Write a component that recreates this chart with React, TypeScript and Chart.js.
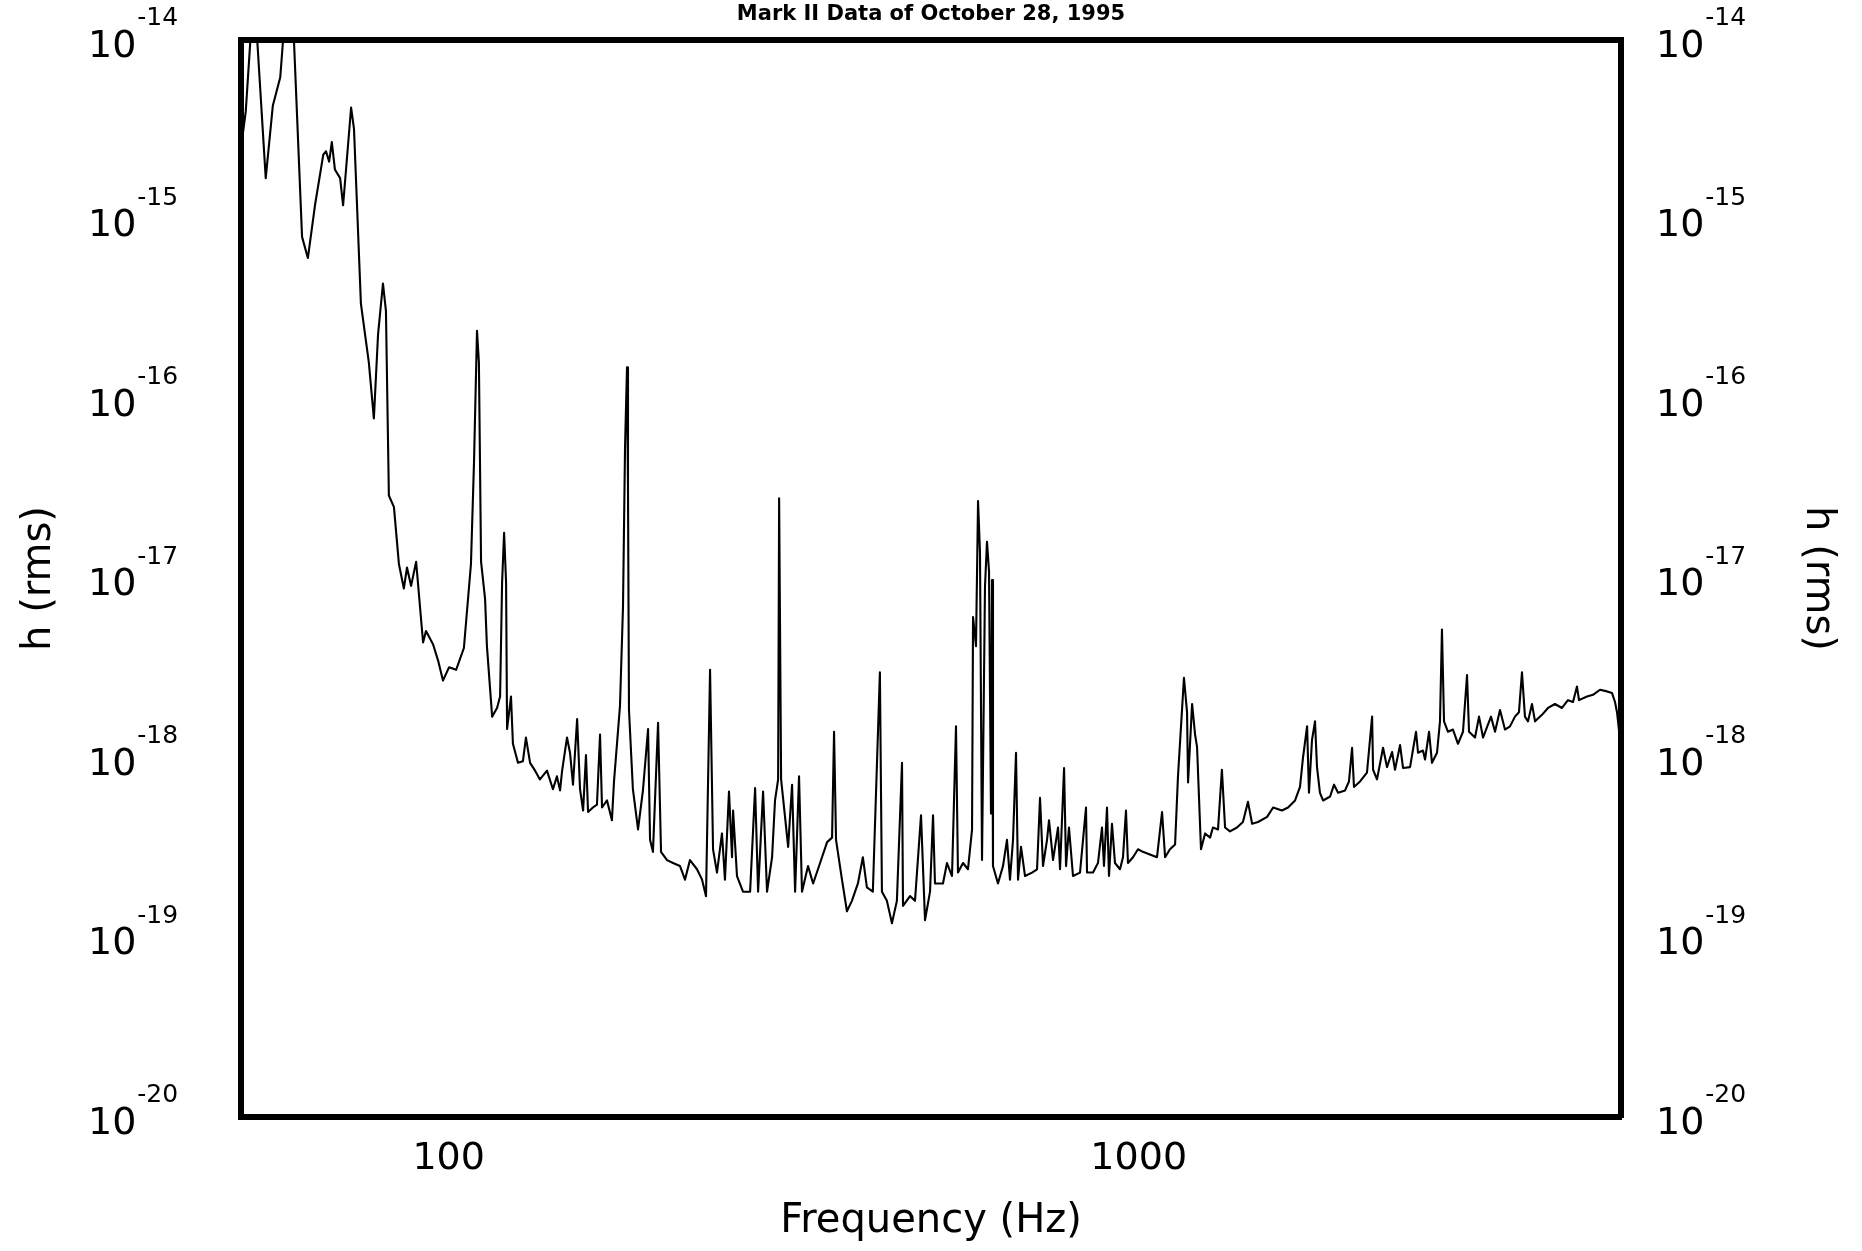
import React, { useEffect, useRef } from "react";
import { Chart, registerables } from "chart.js";

Chart.register(...registerables);

const TITLE = "Mark II Data of October 28, 1995";
const X_TITLE = "Frequency (Hz)";
const Y_TITLE = "h (rms)";
const X_TICKS = [100, 1000];
const Y_DECADES = [-14, -15, -16, -17, -18, -19, -20];
const X_MIN = 50;
const X_MAX = 5000;
const Y_MIN = 1e-20;
const Y_MAX = 1e-14;

// 50 - 125 Hz
const freqLow = [
  50.0, 50.8, 52.2, 54.3, 55.6, 57.0, 58.9, 61.3, 62.5, 64.0, 65.8, 66.4, 67.1, 67.7, 68.4,
  69.6, 70.3, 72.2, 72.9, 74.6, 76.6, 77.9, 79.0, 80.3, 81.1, 81.9, 83.3, 84.7, 86.1, 87.0,
  88.2, 89.7, 91.8, 92.7, 94.9, 96.5, 98.1, 100.1, 102.5, 105.2, 107.7, 108.8, 109.9, 110.6,
  111.4, 112.9, 113.6, 115.6, 117.5, 118.7, 119.5, 120.3, 121.1, 121.5, 123.1, 123.9,
];
const hLow = [
  2.5e-15, 4.0e-15, 2.0e-14, 1.7e-15, 4.3e-15, 6.2e-15, 3.3e-14, 8.0e-16, 6.1e-16, 1.2e-15,
  2.3e-15, 2.4e-15, 2.1e-15, 2.7e-15, 1.9e-15, 1.7e-15, 1.2e-15, 4.2e-15, 3.2e-15, 3.4e-16,
  1.6e-16, 7.8e-17, 2.3e-16, 4.4e-16, 3.1e-16, 2.9e-17, 2.5e-17, 1.2e-17, 8.8e-18, 1.15e-17,
  9.1e-18, 1.24e-17, 4.4e-18, 5.1e-18, 4.3e-18, 3.5e-18, 2.7e-18, 3.2e-18, 3.1e-18, 4.1e-18,
  1.2e-17, 4.4e-17, 2.4e-16, 1.6e-16, 1.24e-17, 7.7e-18, 4.2e-18, 1.7e-18, 1.9e-18, 2.2e-18,
  9.5e-18, 1.8e-17, 9.5e-18, 1.45e-18, 2.2e-18, 1.2e-18,
];

// 125 - 300 Hz
const freqMid = [
  126.0, 128.1, 129.4, 131.2, 133.4, 135.6, 138.8, 141.6, 143.5, 145.0, 146.0, 148.4, 149.9,
  151.4, 153.5, 155.0, 156.6, 158.1, 159.2, 161.8, 164.0, 165.7, 166.8, 169.6, 172.4, 173.6,
  177.1, 178.9, 180.1, 181.3, 181.9, 182.5, 184.9, 188.1, 191.2, 194.5, 195.8, 197.7, 201.1,
  203.1, 207.2, 211.4, 216.4, 220.0, 223.7, 229.0, 232.9, 236.0, 239.2, 241.6, 244.8, 248.9,
  251.4, 254.8, 257.4, 258.3, 261.7, 267.0, 273.4, 278.0, 280.8, 285.5, 289.3, 294.2, 297.1,
];
const hMid = [
  9.4e-19, 9.6e-19, 1.3e-18, 9.4e-19, 8.5e-19, 7.6e-19, 8.5e-19, 6.7e-19, 7.9e-19, 6.6e-19,
  8.5e-19, 1.3e-18, 1.07e-18, 7.1e-19, 1.65e-18, 6.7e-19, 5.1e-19, 1.04e-18, 5.0e-19, 5.3e-19,
  5.5e-19, 1.35e-18, 5.3e-19, 5.8e-19, 4.5e-19, 7.4e-19, 1.95e-18, 7.0e-18, 5.3e-17, 1.5e-16,
  3.2e-17, 1.85e-18, 6.7e-19, 4.0e-19, 6.6e-19, 1.45e-18, 3.5e-19, 3.0e-19, 1.57e-18, 3.0e-19,
  2.7e-19, 2.6e-19, 2.5e-19, 2.1e-19, 2.7e-19, 2.4e-19, 2.1e-19, 1.7e-19, 3.1e-18, 3.1e-19,
  2.3e-19, 3.8e-19, 2.1e-19, 6.5e-19, 2.8e-19, 5.1e-19, 2.2e-19, 1.8e-19, 1.8e-19, 6.8e-19,
  1.8e-19, 6.5e-19, 1.8e-19, 2.8e-19, 5.8e-19,
];

// 300 - 1000 Hz
const freqBucket = [
  300.2, 301.2, 303.2, 307.2, 310.4, 314.5, 317.7, 321.9, 325.1, 331.7, 337.4, 345.3, 353.5,
  359.4, 361.8, 364.2, 371.5, 377.7, 384.0, 391.8, 398.3, 403.7, 411.8, 421.6, 424.5, 431.6,
  438.9, 446.2, 453.9, 455.4, 466.2, 474.0, 483.6, 490.1, 498.4, 503.4, 506.7, 520.4, 527.4,
  536.3, 543.5, 547.1, 556.4, 565.7, 573.4, 575.3, 581.0, 585.0, 588.8, 592.8, 598.7, 602.7,
  606.8, 610.8, 612.9, 614.9, 625.2, 635.8, 644.3, 650.8, 657.4, 664.0, 668.5, 675.2, 684.3,
  700.5, 712.3, 719.4, 726.6, 736.4, 741.3, 751.3, 764.0, 769.1, 779.5, 784.7, 792.4, 803.1,
  822.1, 838.7, 841.6, 858.6, 872.9, 884.7, 890.6, 899.6, 905.6, 914.7, 923.9, 939.5, 948.9,
  958.4, 964.8, 981.1, 997.6,
];
const hBucket = [
  7.6e-19, 2.8e-17, 7.6e-19, 4.7e-19, 3.2e-19, 7.1e-19, 1.8e-19, 7.9e-19, 1.8e-19, 2.5e-19,
  2.0e-19, 2.6e-19, 3.4e-19, 3.6e-19, 1.4e-18, 3.5e-19, 2.1e-19, 1.4e-19, 1.6e-19, 2.0e-19,
  2.8e-19, 1.9e-19, 1.8e-19, 3.0e-18, 1.8e-19, 1.6e-19, 1.2e-19, 1.6e-19, 9.4e-19, 1.5e-19,
  1.7e-19, 1.6e-19, 4.8e-19, 1.25e-19, 1.8e-19, 4.8e-19, 2.0e-19, 2.0e-19, 2.6e-19, 2.2e-19,
  1.5e-18, 2.3e-19, 2.6e-19, 2.4e-19, 4.0e-19, 6.1e-18, 4.2e-18, 2.7e-17, 1.4e-17, 2.7e-19,
  9.0e-18, 1.6e-17, 1.1e-17, 4.9e-19, 9.8e-18, 2.5e-19, 2.0e-19, 2.5e-19, 3.5e-19, 2.1e-19,
  3.5e-19, 1.07e-18, 2.1e-19, 3.2e-19, 2.2e-19, 2.3e-19, 2.4e-19, 6.0e-19, 2.5e-19, 3.5e-19,
  4.5e-19, 2.7e-19, 4.1e-19, 2.4e-19, 8.8e-19, 2.5e-19, 4.1e-19, 2.2e-19, 2.3e-19, 5.3e-19,
  2.3e-19, 2.3e-19, 2.6e-19, 4.1e-19, 2.5e-19, 5.3e-19, 2.2e-19, 4.3e-19, 2.6e-19, 2.4e-19,
  2.8e-19, 5.1e-19, 2.6e-19, 2.8e-19, 3.1e-19,
];

// 1000 - 5000 Hz
const freqHigh = [
  1014, 1038, 1063, 1081, 1092, 1110, 1129, 1140, 1163, 1175, 1179, 1195, 1207, 1215, 1231,
  1248, 1269, 1281, 1303, 1320, 1334, 1356, 1388, 1416, 1440, 1460, 1489, 1535, 1566, 1613,
  1646, 1685, 1713, 1730, 1754, 1765, 1783, 1801, 1813, 1831, 1850, 1894, 1919, 1945, 1991,
  2017, 2038, 2051, 2093, 2142, 2179, 2186, 2215, 2260, 2290, 2329, 2352, 2392, 2416, 2473,
  2523, 2540, 2582, 2600, 2635, 2661, 2706, 2733, 2751, 2770, 2807, 2854, 2902, 2951, 2991,
  3011, 3072, 3113, 3155, 3240, 3284, 3339, 3395, 3452, 3510, 3557, 3593, 3629, 3666, 3715,
  3753, 3841, 3919, 4011, 4106, 4189, 4260, 4317, 4346, 4464, 4554, 4662, 4772, 4853, 4901,
  4934, 4984,
];
const hHigh = [
  3.0e-19, 2.9e-19, 2.8e-19, 5.0e-19, 2.8e-19, 3.1e-19, 3.3e-19, 7.9e-19, 2.8e-18, 1.8e-18,
  7.3e-19, 2.0e-18, 1.35e-18, 1.15e-18, 3.1e-19, 3.8e-19, 3.6e-19, 4.1e-19, 4.0e-19, 8.6e-19,
  4.1e-19, 3.9e-19, 4.1e-19, 4.4e-19, 5.7e-19, 4.3e-19, 4.4e-19, 4.7e-19, 5.3e-19, 5.1e-19,
  5.3e-19, 5.8e-19, 6.9e-19, 1.0e-18, 1.5e-18, 6.4e-19, 1.26e-18, 1.6e-18, 8.9e-19, 6.4e-19,
  5.8e-19, 6.1e-19, 7.1e-19, 6.4e-19, 6.6e-19, 7.4e-19, 1.14e-18, 6.9e-19, 7.4e-19, 8.3e-19,
  1.7e-18, 8.6e-19, 7.6e-19, 1.14e-18, 8.9e-19, 1.08e-18, 8.6e-19, 1.18e-18, 8.8e-19, 8.9e-19,
  1.4e-18, 1.07e-18, 1.1e-18, 9.8e-19, 1.4e-18, 9.4e-19, 1.07e-18, 1.6e-18, 5.2e-18, 1.6e-18,
  1.4e-18, 1.44e-18, 1.2e-18, 1.4e-18, 2.9e-18, 1.4e-18, 1.3e-18, 1.7e-18, 1.3e-18, 1.7e-18,
  1.4e-18, 1.85e-18, 1.44e-18, 1.5e-18, 1.7e-18, 1.8e-18, 3.0e-18, 1.7e-18, 1.6e-18, 2.0e-18,
  1.6e-18, 1.74e-18, 1.9e-18, 2.0e-18, 1.9e-18, 2.1e-18, 2.05e-18, 2.5e-18, 2.1e-18, 2.2e-18,
  2.25e-18, 2.4e-18, 2.35e-18, 2.3e-18, 2.05e-18, 1.8e-18, 1.26e-18,
];

const FONT = "'DejaVu Sans', 'Liberation Sans', sans-serif";

export default function App() {
  const ref = useRef<HTMLCanvasElement>(null);

  useEffect(() => {
    const canvas = ref.current;
    if (!canvas) return;

    const freqs = [...freqLow, ...freqMid, ...freqBucket, ...freqHigh];
    const hs = [...hLow, ...hMid, ...hBucket, ...hHigh];
    const points = freqs.map((f, i) => ({ x: f, y: hs[i] }));

    const decadeLabels = {
      id: "decadeLabels",
      afterDraw(chart: any) {
        const ctx = chart.ctx;
        const ys = chart.scales.y;
        ctx.save();
        ctx.fillStyle = "#000";
        ctx.textAlign = "left";
        ctx.textBaseline = "alphabetic";
        const draw = (x0: number, e: number, py: number) => {
          ctx.font = `38px ${FONT}`;
          ctx.fillText("10", x0, py + 16.5);
          const w = ctx.measureText("10").width;
          ctx.font = `25px ${FONT}`;
          ctx.fillText(String(e), x0 + w + 1, py - 15);
        };
        for (const e of Y_DECADES) {
          const py = ys.getPixelForValue(Math.pow(10, e));
          draw(88, e, py);
          draw(1656, e, py);
        }
        ctx.restore();
      },
    };

    const border = { display: true, color: "#000", width: 6 };
    const noGrid = { display: false, drawTicks: false };

    const chart = new Chart(canvas, {
      type: "line",
      data: {
        datasets: [
          {
            data: points,
            borderColor: "#000",
            borderWidth: 2.1,
            pointRadius: 0,
            tension: 0,
            fill: false,
            borderJoinStyle: "round",
          } as any,
        ],
      },
      options: {
        responsive: false,
        animation: false,
        devicePixelRatio: 1,
        layout: { padding: 0 },
        plugins: {
          legend: { display: false },
          tooltip: { enabled: false },
          title: {
            display: true,
            text: TITLE,
            color: "#000",
            font: { family: FONT, size: 21, weight: "bold" },
            padding: { top: 2, bottom: 0 },
          },
        },
        scales: {
          x: {
            type: "logarithmic",
            position: "bottom",
            min: X_MIN,
            max: X_MAX,
            grid: noGrid,
            border,
            ticks: {
              color: "#000",
              font: { family: FONT, size: 38 },
              padding: 19,
              autoSkip: false,
              maxRotation: 0,
              callback: (v: any) => String(v),
            },
            afterBuildTicks: (axis: any) => {
              axis.ticks = X_TICKS.map((v) => ({ value: v }));
            },
            title: {
              display: true,
              text: X_TITLE,
              color: "#000",
              font: { family: FONT, size: 40 },
              padding: { top: 0, bottom: 5 },
            },
            afterFit: (s: any) => {
              s.height = 134;
            },
          },
          xTop: {
            type: "logarithmic",
            position: "top",
            min: X_MIN,
            max: X_MAX,
            grid: noGrid,
            border,
            ticks: { display: false },
            afterFit: (s: any) => {
              s.height = 40 - 27.2;
            },
          },
          y: {
            type: "logarithmic",
            position: "left",
            min: Y_MIN,
            max: Y_MAX,
            grid: noGrid,
            border,
            ticks: { display: false },
            title: {
              display: true,
              text: Y_TITLE,
              color: "#000",
              font: { family: FONT, size: 40 },
              padding: { top: 16, bottom: 0 },
            },
            afterFit: (s: any) => {
              s.width = 241;
            },
          },
          yRight: {
            type: "logarithmic",
            position: "right",
            min: Y_MIN,
            max: Y_MAX,
            grid: noGrid,
            border,
            ticks: { display: false },
            title: {
              display: true,
              text: Y_TITLE,
              color: "#000",
              font: { family: FONT, size: 40 },
              padding: { top: 21, bottom: 0 },
            },
            afterFit: (s: any) => {
              s.width = 241;
            },
          },
        },
      } as any,
      plugins: [decadeLabels],
    });

    return () => chart.destroy();
  }, []);

  return (
    <div style={{ position: "fixed", left: 0, top: 0, width: 1862, height: 1251, background: "#fff" }}>
      <canvas ref={ref} width={1862} height={1251} style={{ width: 1862, height: 1251, display: "block" }} />
    </div>
  );
}
